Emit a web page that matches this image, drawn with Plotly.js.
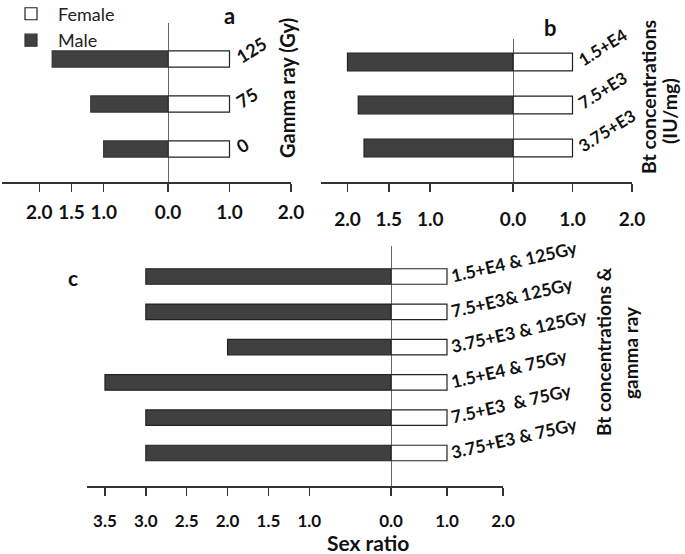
<!DOCTYPE html>
<html><head><meta charset="utf-8">
<script src="https://cdn.plot.ly/plotly-3.0.1.min.js"></script>
<style>body{margin:0;background:#fff}#chart{width:685px;height:554px}</style>
</head><body><div id="chart"></div>
<script>
// ---- data ----
// Panel a : gamma ray (Gy)
const catsA = ["0", "75", "125"];
const maleA = [1.0, 1.2, 1.8];
const femaleA = [1.0, 1.0, 1.0];
// Panel b : Bt concentrations (IU/mg)
const catsB = ["3.75+E3", "7.5+E3", "1.5+E4"];
const maleB = [1.8, 1.87, 2.0];
const femaleB = [1.0, 1.0, 1.0];
// Panel c : Bt concentrations & gamma ray
const catsC = ["3.75+E3 & 75Gy", "7.5+E3\u00a0 & 75Gy", "1.5+E4 & 75Gy",
               "3.75+E3 & 125Gy", "7.5+E3& 125Gy", "1.5+E4 & 125Gy"];
const maleC = [3.0, 3.0, 3.5, 2.0, 3.0, 3.0];
const femaleC = [1.0, 1.0, 1.0, 1.0, 1.0, 1.0];
// tick labels
const leftTicksAB = [2.0, 1.5, 1.0, 0.0];
const leftTicksC = [3.5, 3.0, 2.5, 2.0, 1.5, 1.0, 0.0];
const rightTicks = [1.0, 2.0];

// ---- styling ----
const W = 685, H = 554;
const fx = p => p / W;
const fy = p => 1 - p / H;
const FONT = "Lato, 'Open Sans', sans-serif";
const INK = "#111";
const MALE = "#404040", FEMALE = "#ffffff";

function bar(x, y, xa, ya, color, lineColor, width, name, show) {
  return {type: "bar", orientation: "h", x: x, y: y, xaxis: xa, yaxis: ya,
    name: name, showlegend: show, width: width,
    marker: {color: color, line: {color: lineColor, width: 1.2}},
    hoverinfo: "skip"};
}

const data = [
  bar(femaleA, catsA, "x2", "y", FEMALE, "#222", 0.36, "Female", true),
  bar(maleA, catsA, "x", "y", MALE, "#333", 0.36, "Male", true),
  bar(maleB, catsB, "x3", "y2", MALE, "#222", 0.41, "Male", false),
  bar(femaleB, catsB, "x4", "y2", FEMALE, "#222", 0.41, "Female", false),
  bar(maleC, catsC, "x5", "y3", MALE, "#222", 0.44, "Male", false),
  bar(femaleC, catsC, "x6", "y3", FEMALE, "#222", 0.44, "Female", false)
];

function xax(dom, range, ticks, anchor, fs, standoff) {
  return {domain: dom, range: range, anchor: anchor, tickmode: "array",
    tickvals: ticks, tickformat: ".1f", ticks: "outside", ticklen: 8,
    tickwidth: 1.5, tickcolor: "#333", showline: true, linecolor: "#333",
    linewidth: 1.5, showgrid: false, zeroline: false, fixedrange: true,
    ticklabelstandoff: standoff, automargin: false,
    tickfont: {family: FONT, size: fs, color: INK, weight: "bold"}};
}
function yax(dom, range, pos, angle, fs) {
  return {domain: dom, range: range, type: "category", anchor: "free",
    position: pos, side: "right", showline: false, ticks: "",
    tickangle: angle, showgrid: false, zeroline: false, fixedrange: true,
    automargin: false,
    tickfont: {family: FONT, size: fs, color: INK, weight: "bold"}};
}
function note(text, px, py, size, angle) {
  return {text: "<b>" + text + "</b>", x: fx(px), y: fy(py), xref: "paper", yref: "paper",
    xanchor: "center", yanchor: "middle", showarrow: false, textangle: angle || 0,
    font: {family: FONT, size: size, color: INK}};
}

const layout = {
  width: W, height: H, margin: {l: 0, r: 0, t: 0, b: 0, autoexpand: false},
  paper_bgcolor: "#fff", plot_bgcolor: "rgba(0,0,0,0)",
  barmode: "overlay", showlegend: true,
  legend: {x: fx(4), y: 1.008, xanchor: "left", yanchor: "top", itemwidth: 44,
    font: {family: FONT, size: 18, color: "#222"}, bgcolor: "rgba(0,0,0,0)",
    tracegroupgap: 0, itemclick: false},
  // panel a
  xaxis: xax([fx(2), fx(168)], [2.58, 0], leftTicksAB, "y", 19, 5),
  xaxis2: xax([fx(168), fx(291)], [0, 2], rightTicks, "y", 19, 5),
  yaxis: yax([fy(182), fy(23)], [-0.733, 2.8], fx(236), -32, 18),
  // panel b
  xaxis3: xax([fx(321), fx(513)], [2.32, 0], leftTicksAB, "y2", 19, 12),
  xaxis4: xax([fx(513), fx(632)], [0, 2], rightTicks, "y2", 19, 12),
  yaxis2: yax([fy(182), fy(39)], [-0.791, 2.535], fx(578), -32, 17),
  // panel c
  xaxis5: xax([fx(87), fx(391)], [3.72, 0], leftTicksC, "y3", 17, 11),
  xaxis6: xax([fx(391), fx(503)], [0, 2], rightTicks, "y3", 17, 11),
  yaxis3: yax([fy(486), fy(246)], [-0.935, 5.864], fx(450), -13, 17.5),
  shapes: [
    {type: "line", xref: "x2", x0: 0, x1: 0, yref: "y domain", y0: 0, y1: 1,
     line: {color: "#333", width: 1.5}},
    {type: "line", xref: "x4", x0: 0, x1: 0, yref: "y2 domain", y0: 0, y1: 1,
     line: {color: "#333", width: 1.5}},
    {type: "line", xref: "x6", x0: 0, x1: 0, yref: "y3 domain", y0: 0, y1: 1,
     line: {color: "#333", width: 1.5}}
  ],
  annotations: [
    note("a", 230, 16, 22),
    note("b", 550, 27, 22),
    note("c", 73, 277, 21),
    note("Gamma ray (Gy)", 287, 88, 20, -90),
    note("Bt concentrations", 648, 97, 19.5, -90),
    note("(IU/mg)", 670, 111, 19.5, -90),
    note("Bt concentrations &amp;", 603, 352, 19, -90),
    note("gamma ray", 630, 353, 19, -90),
    note("Sex ratio", 368, 542, 21)
  ]
};

Plotly.newPlot("chart", data, layout, {staticPlot: true, displayModeBar: false});
</script></body></html>
